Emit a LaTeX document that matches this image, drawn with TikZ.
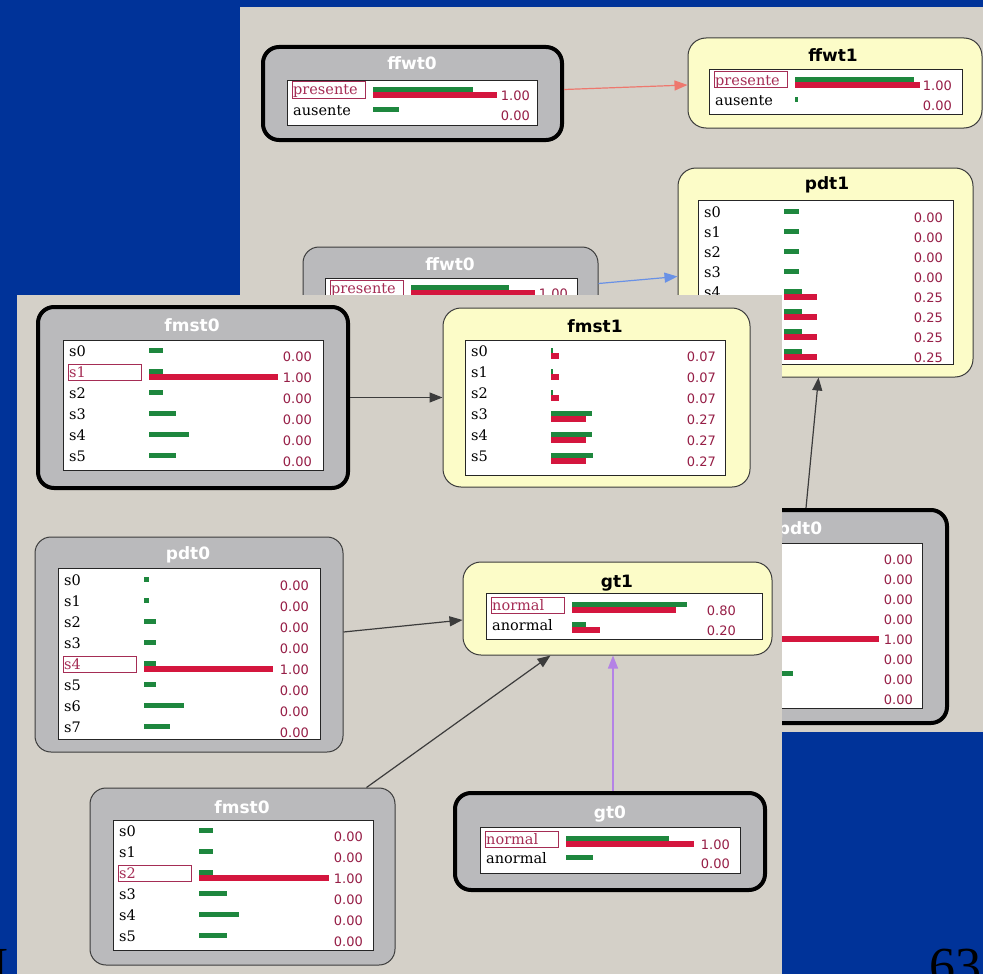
\documentclass[tikz,border=0pt]{standalone}
\usepackage{fontspec}
\usetikzlibrary{arrows.meta}

\newfontfamily\statefont{DejaVu Serif}
\newfontfamily\valuefont{DejaVu Sans}
\newfontfamily\titlefont{DejaVu Sans}
\newfontfamily\slidefont{Liberation Serif}

\definecolor{slideblue}{RGB}{0,51,153}
\definecolor{panelgray}{RGB}{212,208,200}
\definecolor{nodegray}{RGB}{186,186,188}
\definecolor{nodeyellow}{RGB}{252,252,200}
\definecolor{bargreen}{RGB}{30,135,62}
\definecolor{barred}{RGB}{212,22,62}
\definecolor{selred}{RGB}{165,45,85}
\definecolor{valred}{RGB}{150,30,70}
\definecolor{linkdark}{RGB}{60,60,60}
\definecolor{linksalmon}{RGB}{238,120,110}
\definecolor{linkblue}{RGB}{105,145,230}
\definecolor{linkpurple}{RGB}{180,130,230}

\tikzset{
  panel/.style={fill=panelgray},
  obsnode/.style={draw=black, line width=4pt, fill=nodegray, rounded corners=16pt, inner sep=0pt},
  priornode/.style={draw=linkdark, line width=1pt, fill=nodegray, rounded corners=16pt, inner sep=0pt},
  postnode/.style={draw=linkdark, line width=1pt, fill=nodeyellow, rounded corners=18pt, inner sep=0pt},
  nodetitle/.style={anchor=base, inner sep=0pt, font=\titlefont\bfseries\fontsize{17}{20}\selectfont},
  statetable/.style={draw=black!85, line width=1.2pt, fill=white, anchor=north west, inner sep=0pt},
  statelabel/.style={anchor=base west, inner sep=0pt, font=\statefont\fontsize{14.5}{16}\selectfont},
  statevalue/.style={anchor=base east, inner sep=0pt, text=valred, font=\valuefont\fontsize{13}{15}\selectfont},
  selbox/.style={draw=selred, line width=1pt},
  slidetext/.style={inner sep=0pt, font=\slidefont\fontsize{52}{56}\selectfont},
  link/.style={line width=1.2pt, -{Triangle[length=13pt,width=10pt]}},
}

% rows of a state table: name, left x, first row y, row pitch, value column, rows
\newcommand\bnstates[6]{%
  \foreach \lab/\gw/\rw/\val/\sel [count=\i from 0] in {#6}{
    \pgfmathsetmacro\ly{#3+\i*#4}
    \ifnum\sel=1
      \draw[selbox] (#2+5,\ly-8) rectangle ++(73,16);
      \node[statelabel,text=selred] (#1-s\i) at (#2+6,\ly+5) {\lab};
    \else
      \node[statelabel] (#1-s\i) at (#2+6,\ly+5) {\lab};
    \fi
    \fill[bargreen] (#2+86,\ly-3) rectangle ++(\gw,5);
    \ifdim\rw pt>0pt \fill[barred] (#2+86,\ly+2) rectangle ++(\rw,6);\fi
    \node[statevalue] (#1-v\i) at (#2+#5,\ly+10.5) {\val};
  }}

\begin{document}
\begin{tikzpicture}[x=1pt,y=-1pt]
\useasboundingbox (0,0) rectangle (983,974);
\fill[slideblue] (0,0) rectangle (983,974);

% back window
\fill[panel] (240,7) rectangle (983,732);

\node[obsnode, minimum width=299, minimum height=93] (ffwtA) at (412.5,93.5) {};
\node[nodetitle, text=white] (ffwtA-t) at (412,70) {ffwt0};
\node[statetable, minimum width=250, minimum height=45] (ffwtA-tab) at (287,80) {};
\bnstates{ffwtA}{287}{90}{20}{243}{presente/100/124/1.00/1, ausente/26/0/0.00/0}

\node[postnode, minimum width=294, minimum height=90] (ffwt1) at (835,83) {};
\node[nodetitle] (ffwt1-t) at (833,62) {ffwt1};
\node[statetable, minimum width=253, minimum height=45] (ffwt1-tab) at (709,69) {};
\bnstates{ffwt1}{709}{80}{20}{243}{presente/119/125/1.00/1, ausente/3/0/0.00/0}

\node[postnode, minimum width=295, minimum height=209] (pdt1) at (825.5,272.5) {};
\node[nodetitle] (pdt1-t) at (827,189) {pdt1};
\node[statetable, minimum width=255, minimum height=164] (pdt1-tab) at (698,200) {};
\bnstates{pdt1}{698}{212}{20}{245}{s0/15/0/0.00/0, s1/15/0/0.00/0, s2/15/0/0.00/0,
  s3/15/0/0.00/0, s4/18/33/0.25/0, s5/18/33/0.25/0, s6/18/33/0.25/0, s7/18/33/0.25/0}

\node[priornode, minimum width=295, minimum height=93] (ffwtB) at (450.5,293.5) {};
\node[nodetitle, text=white] (ffwtB-t) at (450,270) {ffwt0};
\node[statetable, minimum width=252, minimum height=45] (ffwtB-tab) at (325,278) {};
\bnstates{ffwtB}{325}{288}{20}{243}{presente/98/124/1.00/1, ausente/26/0/0.00/0}

\node[obsnode, minimum width=294, minimum height=213] (pdtB) at (800,616.5) {};
\node[nodetitle, text=white] (pdtB-t) at (800,534) {pdt0};
\node[statetable, minimum width=260, minimum height=165] (pdtB-tab) at (662,543) {};
\bnstates{pdtB}{662}{554}{20}{251}{s0/5/0/0.00/0, s1/5/0/0.00/0, s2/12/0/0.00/0,
  s3/12/0/0.00/0, s4/12/131/1.00/1, s5/12/0/0.00/0, s6/45/0/0.00/0, s7/26/0/0.00/0}

\draw[link, linksalmon] ([yshift=4pt]ffwtA.east) -- ([yshift=-2pt]ffwt1.west);
\draw[link, linkblue] ([yshift=10pt]ffwtB.east) -- ([yshift=-4pt]pdt1.west);
\draw[link, linkdark] ([xshift=6pt]pdtB.north) -- ([xshift=-7pt]pdt1.south);

% front window
\fill[panel] (17,295) rectangle (782,974);

\node[obsnode, minimum width=310, minimum height=181] (fmstA) at (193,397.5) {};
\node[nodetitle, text=white] (fmstA-t) at (192,331) {fmst0};
\node[statetable, minimum width=260, minimum height=130] (fmstA-tab) at (63,340) {};
\bnstates{fmstA}{63}{351}{21}{249}{s0/14/0/0.00/0, s1/14/129/1.00/1, s2/14/0/0.00/0,
  s3/27/0/0.00/0, s4/40/0/0.00/0, s5/27/0/0.00/0}

\node[postnode, minimum width=307, minimum height=179] (fmst1) at (596.5,397.5) {};
\node[nodetitle] (fmst1-t) at (595,332) {fmst1};
\node[statetable, minimum width=260, minimum height=135] (fmst1-tab) at (465,340) {};
\bnstates{fmst1}{465}{351}{21}{251}{s0/2/8/0.07/0, s1/2/8/0.07/0, s2/2/8/0.07/0,
  s3/41/35/0.27/0, s4/41/35/0.27/0, s5/42/35/0.27/0}

\node[priornode, minimum width=308, minimum height=215] (pdtA) at (189,644.5) {};
\node[nodetitle, text=white] (pdtA-t) at (188,559) {pdt0};
\node[statetable, minimum width=262, minimum height=171] (pdtA-tab) at (58,568) {};
\bnstates{pdtA}{58}{580}{21}{251}{s0/5/0/0.00/0, s1/5/0/0.00/0, s2/12/0/0.00/0,
  s3/12/0/0.00/0, s4/12/129/1.00/1, s5/12/0/0.00/0, s6/40/0/0.00/0, s7/26/0/0.00/0}

\node[postnode, minimum width=309, minimum height=93] (gt1) at (617.5,608.5) {};
\node[nodetitle] (gt1-t) at (617,587) {gt1};
\node[statetable, minimum width=276, minimum height=46] (gt1-tab) at (486,593) {};
\bnstates{gt1}{486}{605}{20}{250}{normal/115/104/0.80/1, anormal/14/28/0.20/0}

\node[priornode, minimum width=305, minimum height=177] (fmstC) at (242.5,876.5) {};
\node[nodetitle, text=white] (fmstC-t) at (242,813) {fmst0};
\node[statetable, minimum width=260, minimum height=130] (fmstC-tab) at (113,820) {};
\bnstates{fmstC}{113}{831}{21}{250}{s0/14/0/0.00/0, s1/14/0/0.00/0, s2/14/130/1.00/1,
  s3/28/0/0.00/0, s4/40/0/0.00/0, s5/28/0/0.00/0}

\node[obsnode, minimum width=310, minimum height=97] (gt0) at (610,841.5) {};
\node[nodetitle, text=white] (gt0-t) at (610,818) {gt0};
\node[statetable, minimum width=260, minimum height=46] (gt0-tab) at (480,827) {};
\bnstates{gt0}{480}{839}{19}{250}{normal/103/128/1.00/1, anormal/27/0/0.00/0}

\draw[link, linkdark] (fmstA.east) -- (fmst1.west);
\draw[link, linkdark] ([yshift=12.5pt]pdtA.east) -- ([yshift=-11.5pt]gt1.west);
\draw[link, linkdark] ([xshift=-29pt]fmstC.north east) -- ([xshift=-67pt]gt1.south);
\draw[link, linkpurple] ([xshift=3pt]gt0.north) -- ([xshift=-4.5pt]gt1.south);

% slide footer
\node[slidetext, anchor=base east] (footI) at (9,983) {I};
\node[slidetext, anchor=base east] (pageno) at (982,983) {63};
\end{tikzpicture}
\end{document}
